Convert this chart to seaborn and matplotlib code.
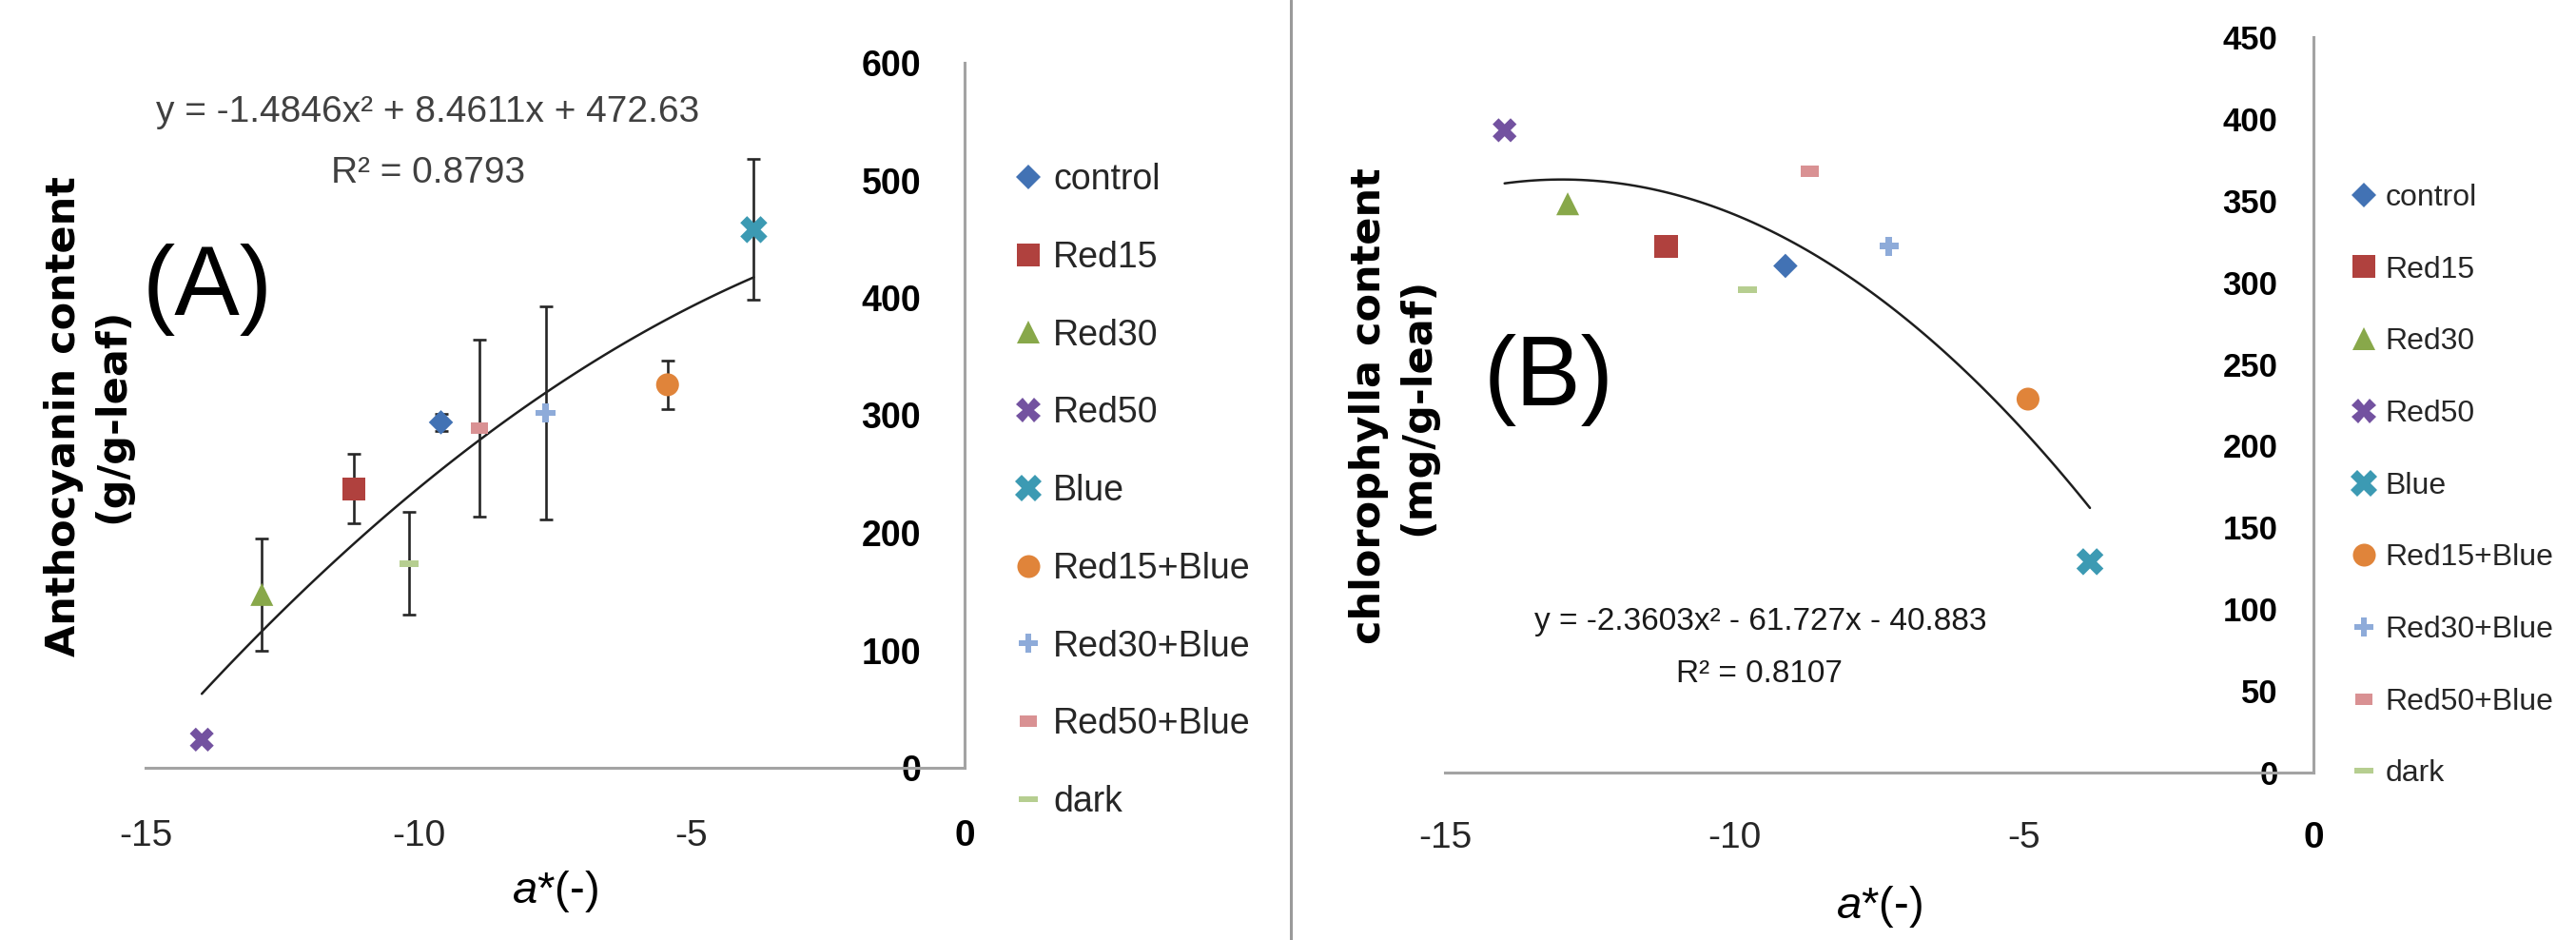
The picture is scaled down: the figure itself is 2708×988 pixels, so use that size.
import numpy as np
import pandas as pd
import matplotlib
matplotlib.use("Agg")
import matplotlib.pyplot as plt
from matplotlib.lines import Line2D
from matplotlib import font_manager
import seaborn as sns

# ---------------- data ----------------
treatments = ["control", "Red15", "Red30", "Red50", "Blue",
              "Red15+Blue", "Red30+Blue", "Red50+Blue", "dark"]

# Panel A: anthocyanin vs a*
a_star_A = [-9.59, -11.19, -12.87, -13.97, -3.86, -5.44, -7.67, -8.89, -10.17]
anthocyanin = [294, 237.5, 147.5, 24, 458, 326, 302, 289, 174]
anthocyanin_err = [7, 29.5, 47.5, 3, 60, 20.7, 90.5, 75, 44]

# Panel B: chlorophyll a vs a*
a_star_B = [-9.12, -11.18, -12.88, -13.97, -3.86, -4.93, -7.33, -8.70, -9.78]
chlorophyll = [310, 322, 348, 393, 129, 228.5, 322, 368, 295.5]

x_ticks = [-15, -10, -5, 0]
y_ticks_A = [0, 100, 200, 300, 400, 500, 600]
y_ticks_B = [0, 50, 100, 150, 200, 250, 300, 350, 400, 450]

eq_A = ["y = -1.4846x\u00b2 + 8.4611x + 472.63", "R\u00b2 = 0.8793"]
eq_B = ["y = -2.3603x\u00b2 - 61.727x - 40.883", "R\u00b2 = 0.8107"]

# ---------------- styles ----------------
colors = {"control": "#4272B4", "Red15": "#B0413E", "Red30": "#88A84A",
          "Red50": "#7352A0", "Blue": "#3C9AB3", "Red15+Blue": "#E0843A",
          "Red30+Blue": "#8EABD9", "Red50+Blue": "#D99193", "dark": "#B6CE90"}
pill = [(-1, -0.7), (1, -0.7), (1, 0.7), (-1, 0.7), (-1, -0.7)]
dash = [(-1, -0.35), (1, -0.35), (1, 0.35), (-1, 0.35), (-1, -0.35)]
markers = {"control": "D", "Red15": "s", "Red30": "^", "Red50": "X",
           "Blue": "X", "Red15+Blue": "o", "Red30+Blue": "P",
           "Red50+Blue": pill, "dark": dash}
msizes = {"control": 170, "Red15": 300, "Red30": 300, "Red50": 330,
          "Blue": 420, "Red15+Blue": 300, "Red30+Blue": 220,
          "Red50+Blue": 170, "dark": 200}

sns.set_theme(style="white")
names = {f.name for f in font_manager.fontManager.ttflist}
NARROW = "Liberation Sans Narrow" if "Liberation Sans Narrow" in names else "Liberation Sans"
plt.rcParams["font.family"] = [NARROW, "DejaVu Sans"]
plt.rcParams["mathtext.fontset"] = "custom"
plt.rcParams["mathtext.rm"] = NARROW
plt.rcParams["mathtext.it"] = NARROW + ":italic"

W, H = 2708, 988
fig = plt.figure(figsize=(W / 100, H / 100), dpi=100)
fig.patch.set_facecolor("white")

axA = fig.add_axes([153 / W, 1 - 807 / H, 861 / W, 741 / H])
axB = fig.add_axes([1519 / W, 1 - 812 / H, 913 / W, 773 / H])

AXCOL = "#A3A3A3"


def style_axes(ax, yticks, ysize, ypad, xsize, xpad):
    ax.set_facecolor("none")
    ax.set_xlim(x_ticks[0], x_ticks[-1])
    ax.set_ylim(yticks[0], yticks[-1])
    for s in ["top", "right"]:
        ax.spines[s].set_visible(False)
    ax.spines["left"].set_position(("data", 0))
    for s in ["left", "bottom"]:
        ax.spines[s].set_color(AXCOL)
        ax.spines[s].set_linewidth(2.2)
        ax.spines[s].set_zorder(1)
    ax.set_yticks(yticks)
    ax.set_yticklabels([str(t) for t in yticks], fontsize=ysize,
                       fontweight="bold", color="black", family=NARROW)
    ax.set_xticks(x_ticks)
    ax.set_xticklabels([str(t) for t in x_ticks], fontsize=xsize,
                       color="#262626", family=NARROW)
    ax.get_xticklabels()[-1].set_fontweight("bold")
    ax.get_xticklabels()[-1].set_color("black")
    ax.tick_params(axis="y", length=0, pad=ypad)
    ax.tick_params(axis="x", length=0, pad=xpad)
    ax.grid(False)


def draw_panel(ax, xs, ys):
    df = pd.DataFrame({"a": xs, "v": ys, "treatment": treatments})
    sns.regplot(data=df, x="a", y="v", order=2, ci=None, scatter=False,
                truncate=True, color="#1E1E1E", line_kws={"lw": 1.8, "zorder": 2},
                ax=ax)
    sns.scatterplot(data=df, x="a", y="v", hue="treatment", style="treatment",
                    size="treatment", palette=colors, markers=markers,
                    sizes=msizes, hue_order=treatments, style_order=treatments,
                    size_order=treatments, edgecolor="none", linewidth=0,
                    legend=False, ax=ax, zorder=4)
    ax.set_xlabel("")
    ax.set_ylabel("")


def add_legend(ax, fsize, x_px, y_px, spacing):
    handles = [Line2D([], [], linestyle="none", marker=markers[t],
                      markersize=np.sqrt(msizes[t]), markerfacecolor=colors[t],
                      markeredgewidth=0, color=colors[t]) for t in treatments]
    ax.legend(handles, treatments, loc="upper left",
              bbox_to_anchor=(x_px / W, 1 - y_px / H),
              bbox_transform=fig.transFigure, frameon=False,
              prop={"family": NARROW, "size": fsize}, labelcolor="#262626",
              handlelength=1.0, handletextpad=0.2, labelspacing=spacing,
              borderpad=0, borderaxespad=0)


# ---------------- panel A ----------------
draw_panel(axA, a_star_A, anthocyanin)
axA.errorbar(a_star_A, anthocyanin, yerr=anthocyanin_err, fmt="none",
             ecolor="#262626", elinewidth=1.9, capsize=5, capthick=1.9, zorder=3)
style_axes(axA, y_ticks_A, 27, 33, 28, 39)
axA.set_ylabel("Anthocyanin content\n(g/g-leaf)", fontsize=31, fontweight="bold",
               family="DejaVu Sans", color="black", linespacing=1.3)
axA.yaxis.set_label_coords(-0.0703, 0.499)
axA.yaxis.label.set_va("center")
axA.set_xlabel(r"$a$*(-)", fontsize=34, color="black")
axA.xaxis.set_label_coords(0.4994, -0.1754)
axA.xaxis.label.set_va("center")
axA.text(0.345, 0.930, eq_A[0], transform=axA.transAxes, ha="center",
         va="center", fontsize=28, color="#404040")
axA.text(0.345, 0.843, eq_A[1], transform=axA.transAxes, ha="center",
         va="center", fontsize=28, color="#404040")
axA.text(0.0755, 0.6775, "(A)", transform=axA.transAxes, ha="center",
         va="center", fontsize=74, color="black")
add_legend(axA, 27, 1062, 171, 1.22)

# ---------------- panel B ----------------
draw_panel(axB, a_star_B, chlorophyll)
style_axes(axB, y_ticks_B, 25, 27, 28, 37)
axB.set_ylabel("chlorophylla content\n(mg/g-leaf)", fontsize=31, fontweight="bold",
               family="DejaVu Sans", color="black", linespacing=1.3)
axB.yaxis.set_label_coords(-0.0597, 0.498)
axB.yaxis.label.set_va("center")
axB.set_xlabel(r"$a$*(-)", fontsize=34, color="black")
axB.xaxis.set_label_coords(0.4995, -0.1824)
axB.xaxis.label.set_va("center")
axB.text(0.3636, 0.2044, eq_B[0], transform=axB.transAxes, ha="center",
         va="center", fontsize=24, color="#1A1A1A")
axB.text(0.3614, 0.1345, eq_B[1], transform=axB.transAxes, ha="center",
         va="center", fontsize=24, color="#1A1A1A")
axB.text(0.119, 0.533, "(B)", transform=axB.transAxes, ha="center",
         va="center", fontsize=74, color="black")
add_legend(axB, 23, 2469, 193, 1.43)

# divider between panels
fig.add_artist(Line2D([1357 / W, 1357 / W], [0, 1], transform=fig.transFigure,
                      color="#9A9A9A", lw=2.2))

fig.savefig("out.png", dpi=100, facecolor="white")
